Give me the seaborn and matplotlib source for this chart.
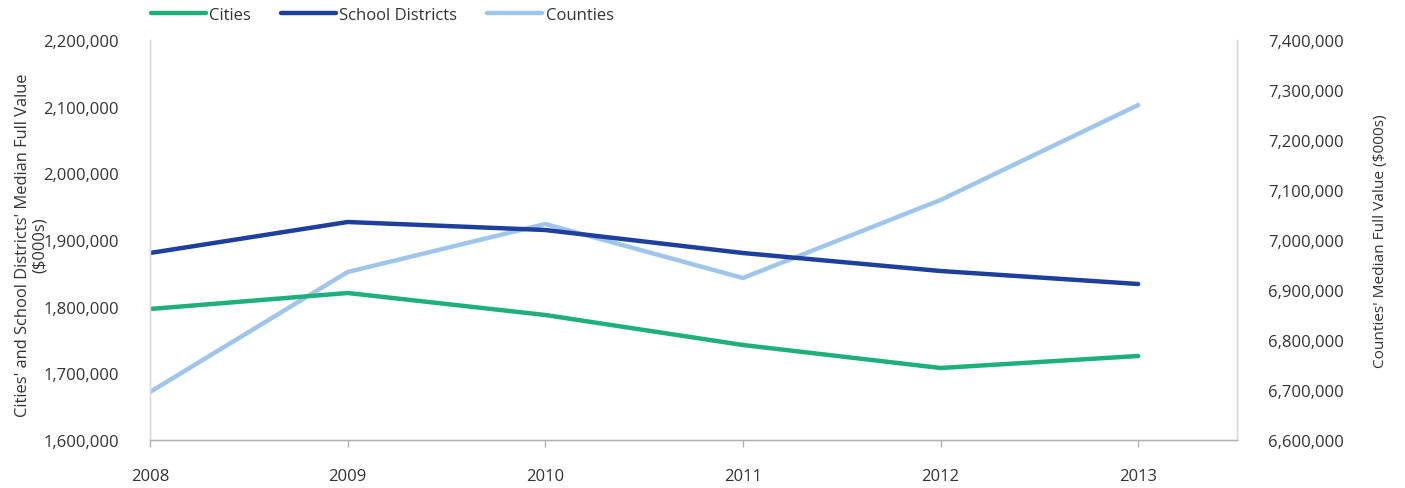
import matplotlib
matplotlib.use("Agg")
import matplotlib.pyplot as plt
import matplotlib.ticker as mticker
import seaborn as sns
import pandas as pd

years = [2008, 2009, 2010, 2011, 2012, 2013]
cities = [1796500, 1820500, 1787500, 1742500, 1708000, 1726000]
school_districts = [1880500, 1927000, 1915000, 1880500, 1853500, 1834000]
counties = [6696000, 6936000, 7032000, 6924000, 7080000, 7270000]

left_ticks = [1600000, 1700000, 1800000, 1900000, 2000000, 2100000, 2200000]
right_ticks = [6600000, 6700000, 6800000, 6900000, 7000000, 7100000, 7200000, 7300000, 7400000]

c_cities = "#1db07a"
c_school = "#1f3f9e"
c_counties = "#9fc6ea"

sns.set_style("white")
plt.rcParams["font.family"] = ["Open Sans", "DejaVu Sans"]
text_color = "#333333"

fig = plt.figure(figsize=(14.05, 4.89), dpi=100)
ax = fig.add_axes([150/1405, 48/489, (1237-150)/1405, 400/489])
ax2 = ax.twinx()

df_left = pd.DataFrame({
    "year": years * 2,
    "value": cities + school_districts,
    "series": ["Cities"] * 6 + ["School Districts"] * 6,
})
df_right = pd.DataFrame({"year": years, "value": counties})

sns.lineplot(data=df_right, x="year", y="value", ax=ax2, color=c_counties,
             linewidth=3.2, legend=False)
sns.lineplot(data=df_left, x="year", y="value", hue="series", ax=ax,
             palette={"Cities": c_cities, "School Districts": c_school},
             linewidth=3.2, legend=False)

ax.set_xlim(2008, 2013.5)
ax.set_ylim(1600000, 2200000)
ax2.set_ylim(6600000, 7400000)
ax.set_xticks(years)
ax.set_xticklabels([str(y) for y in years])
ax.set_yticks(left_ticks)
ax2.set_yticks(right_ticks)
fmt = mticker.FuncFormatter(lambda v, p: f"{int(v):,}")
ax.yaxis.set_major_formatter(fmt)
ax2.yaxis.set_major_formatter(fmt)

ax.set_xlabel("")
ax.set_ylabel("Cities' and School Districts' Median Full Value\n($000s)",
              fontsize=11.9, color=text_color, linespacing=1.1)
ax.yaxis.set_label_coords(-0.094, 0.49)
ax2.set_ylabel("Counties' Median Full Value ($000s)", fontsize=11.1,
               color=text_color)
ax2.yaxis.set_label_coords(1.125, 0.5)

for a in (ax, ax2):
    a.spines["top"].set_visible(False)
    for s in ("left", "right", "bottom"):
        a.spines[s].set_color("#d9d9d9")
        a.spines[s].set_linewidth(1.0)
ax.spines["bottom"].set_color("#b0b0b0")

ax.tick_params(axis="x", bottom=True, length=5, width=1, color="#b0b0b0",
               pad=15, labelsize=12, labelcolor=text_color)
ax.tick_params(axis="y", left=False, pad=19, labelsize=12, labelcolor=text_color)
ax2.tick_params(axis="y", right=False, pad=19, labelsize=12, labelcolor=text_color)

ax.set_zorder(ax2.get_zorder() + 1)
ax.patch.set_visible(False)

from matplotlib.lines import Line2D
handles = [Line2D([], [], color=c_cities, lw=3.2),
           Line2D([], [], color=c_school, lw=3.2),
           Line2D([], [], color=c_counties, lw=3.2)]
fig.legend(handles, ["Cities", "School Districts", "Counties"], ncol=3,
           loc="upper left", bbox_to_anchor=(136/1405, 1.015), frameon=False,
           fontsize=12, handlelength=3.3, handletextpad=0.2, columnspacing=1.8,
           labelcolor=text_color)

fig.savefig("out.png", dpi=100)
